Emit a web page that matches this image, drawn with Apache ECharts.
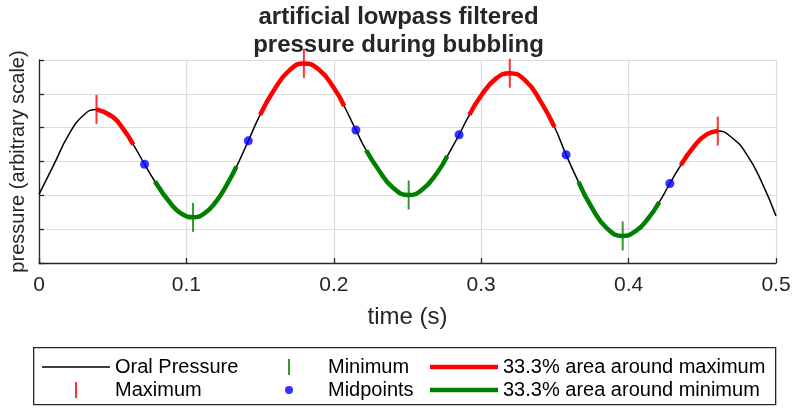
<!DOCTYPE html>
<html>
<head>
<meta http-equiv="content-type" content="text/html; charset=utf-8"/>
<title>artificial lowpass filtered pressure during bubbling</title>
<style type="text/css">body,html{width:100%;height:100%;margin:0;background:#fff}#chart{width:797px;height:411px}</style>
<script src="https://cdn.jsdelivr.net/npm/echarts@6/dist/echarts.min.js"></script>
</head>
<body>
<div id="chart"></div>
<script>
	// oral pressure curve (s / arbitrary units)
	var curveTime = [0.000, 0.010, 0.020, 0.030, 0.039, 0.050, 0.057, 0.064, 0.0716, 0.0787,
		0.090, 0.097, 0.1045, 0.112, 0.120, 0.127, 0.134, 0.142, 0.150, 0.160,
		0.170, 0.1797, 0.190, 0.200, 0.207, 0.215, 0.222, 0.230, 0.240, 0.2508,
		0.260, 0.270, 0.277, 0.285, 0.292, 0.300, 0.310, 0.3194, 0.330, 0.340,
		0.3497, 0.3576, 0.366, 0.375, 0.385, 0.396, 0.405, 0.413, 0.4208, 0.428,
		0.4354, 0.445, 0.453, 0.4605, 0.470, 0.480, 0.490, 0.500];
	var curveValue = [-0.97, -0.10, 0.78, 1.36, 1.54, 1.32, 0.97, 0.50, -0.08, -0.59,
		-1.28, -1.55, -1.65, -1.54, -1.19, -0.72, -0.15, 0.61, 1.38, 2.15,
		2.70, 2.90, 2.71, 2.18, 1.64, 0.93, 0.33, -0.22, -0.77, -0.99,
		-0.83, -0.34, 0.16, 0.79, 1.38, 1.95, 2.45, 2.61, 2.39, 1.80,
		1.02, 0.20, -0.60, -1.36, -1.96, -2.20, -2.05, -1.70, -1.20, -0.65,
		-0.11, 0.48, 0.80, 0.90, 0.71, 0.22, -0.58, -1.61];

	var maxTime = [0.039, 0.1797, 0.3194, 0.4605];
	var maxValue = [1.54, 2.90, 2.61, 0.90];
	var minTime = [0.1045, 0.2508, 0.396];
	var minValue = [-1.65, -0.99, -2.20];
	var midTime = [0.0716, 0.142, 0.215, 0.285, 0.3576, 0.428];
	var midValue = [-0.08, 0.61, 0.93, 0.79, 0.20, -0.65];

	// 33.3% areas (start / end time)
	var maxAreaStart = [0.039, 0.150, 0.292, 0.4354];
	var maxAreaEnd = [0.064, 0.207, 0.3497, 0.4605];
	var minAreaStart = [0.0787, 0.222, 0.366];
	var minAreaEnd = [0.134, 0.277, 0.4208];

	var xTicks = [0, 0.1, 0.2, 0.3, 0.4, 0.5];

	var ink = '#262626';
	var font = '"Liberation Sans", Arial, sans-serif';

	function pairs(t, v) {
		var out = [];
		for (var i = 0; i < t.length; i++) out.push([t[i], v[i]]);
		return out;
	}
	function piece(t0, t1) {
		var out = [];
		for (var i = 0; i < curveTime.length; i++) {
			if (curveTime[i] >= t0 - 1e-6 && curveTime[i] <= t1 + 1e-6) out.push([curveTime[i], curveValue[i]]);
		}
		return out;
	}

	var series = [{
		name: 'Oral Pressure', type: 'line', data: pairs(curveTime, curveValue),
		smooth: 0.5, symbol: 'none', z: 2,
		lineStyle: {color: '#000', width: 1.5}, itemStyle: {color: '#000'}
	}];
	for (var i = 0; i < maxAreaStart.length; i++) {
		series.push({
			name: '33.3% area around maximum', type: 'line', data: piece(maxAreaStart[i], maxAreaEnd[i]),
			smooth: 0.5, symbol: 'none', z: 3,
			lineStyle: {color: '#ff0000', width: 4.5}, itemStyle: {color: '#ff0000'}
		});
	}
	for (var i = 0; i < minAreaStart.length; i++) {
		series.push({
			name: '33.3% area around minimum', type: 'line', data: piece(minAreaStart[i], minAreaEnd[i]),
			smooth: 0.5, symbol: 'none', z: 3,
			lineStyle: {color: '#008000', width: 4.5}, itemStyle: {color: '#008000'}
		});
	}
	series.push({
		name: 'Maximum', type: 'scatter', data: pairs(maxTime, maxValue),
		symbol: 'rect', symbolSize: [2, 29], itemStyle: {color: '#ff0000'}, z: 5
	});
	series.push({
		name: 'Minimum', type: 'scatter', data: pairs(minTime, minValue),
		symbol: 'rect', symbolSize: [2, 29], itemStyle: {color: '#008000'}, z: 5
	});
	series.push({
		name: 'Midpoints', type: 'scatter', data: pairs(midTime, midValue),
		symbol: 'circle', symbolSize: 9, itemStyle: {color: '#0000ff'}, z: 6
	});

	// legend icons: 68x16 box, mark in the middle
	var thinLine = 'path://M0,0 M68,16 M0,7.2 L68,7.2 L68,8.8 L0,8.8 Z';
	var thickLine = 'path://M0,0 M68,16 M0,5.8 L68,5.8 L68,10.2 L0,10.2 Z';
	var barIcon = 'path://M0,0 M68,16 M33,0 L35,0 L35,16 L33,16 Z';
	var dotIcon = 'path://M0,0 M68,16 M30,8 A4,4 0 1,1 38,8 A4,4 0 1,1 30,8 Z';

	function legendItem(name, left, top, icon) {
		return {
			data: [{name: name, icon: icon}], left: left, top: top, padding: 0, selectedMode: false,
			itemWidth: 68, itemHeight: 16,
			textStyle: {fontSize: 20, color: '#000', fontFamily: font, lineHeight: 20}
		};
	}

	var chart = echarts.init(document.getElementById('chart'));
	chart.setOption({
		animation: false,
		backgroundColor: '#fff',
		textStyle: {fontFamily: font},
		title: {
			text: 'artificial lowpass filtered\npressure during bubbling',
			left: 'center', top: 3, padding: [0, 0, 0, 22],
			textStyle: {fontSize: 24, fontWeight: 'bold', color: ink, lineHeight: 28, fontFamily: font}
		},
		grid: {left: 33, right: 21, top: 60, bottom: 148},
		xAxis: {
			type: 'value', min: 0, max: 0.5, interval: 0.1,
			name: 'time (s)', nameLocation: 'middle', nameGap: 42,
			nameTextStyle: {fontSize: 24, color: ink},
			axisLine: {onZero: false, lineStyle: {color: ink, width: 1.3}},
			axisTick: {inside: true, length: 5, lineStyle: {color: ink, width: 1.3}},
			axisLabel: {fontSize: 21, color: ink, margin: 12, formatter: function (v) {
				for (var k = 0; k < xTicks.length; k++) if (Math.abs(xTicks[k] - v) < 1e-9) return String(xTicks[k]);
				return '';
			}},
			splitLine: {lineStyle: {color: '#dcdcdc', width: 1.2}}
		},
		yAxis: {
			type: 'value', min: -3, max: 3, interval: 1,
			name: 'pressure (arbitrary scale)', nameLocation: 'middle', nameGap: 11,
			nameTextStyle: {fontSize: 20, color: ink},
			axisLine: {onZero: false, lineStyle: {color: ink, width: 1.3}},
			axisTick: {inside: true, length: 5, lineStyle: {color: ink, width: 1.3}},
			axisLabel: {show: false},
			splitLine: {lineStyle: {color: '#dcdcdc', width: 1.2}}
		},
		legend: [
			legendItem('Oral Pressure', 42, 357, thinLine),
			legendItem('Maximum', 42, 380, barIcon),
			legendItem('Minimum', 255, 357, barIcon),
			legendItem('Midpoints', 255, 380, dotIcon),
			legendItem('33.3% area around maximum', 430, 357, thickLine),
			legendItem('33.3% area around minimum', 430, 380, thickLine)
		],
		graphic: [{
			type: 'rect', left: 33, top: 347, z: -1,
			shape: {width: 742, height: 57},
			style: {fill: '#fff', stroke: ink, lineWidth: 1.3}
		}],
		series: series
	});
</script>
</body>
</html>
